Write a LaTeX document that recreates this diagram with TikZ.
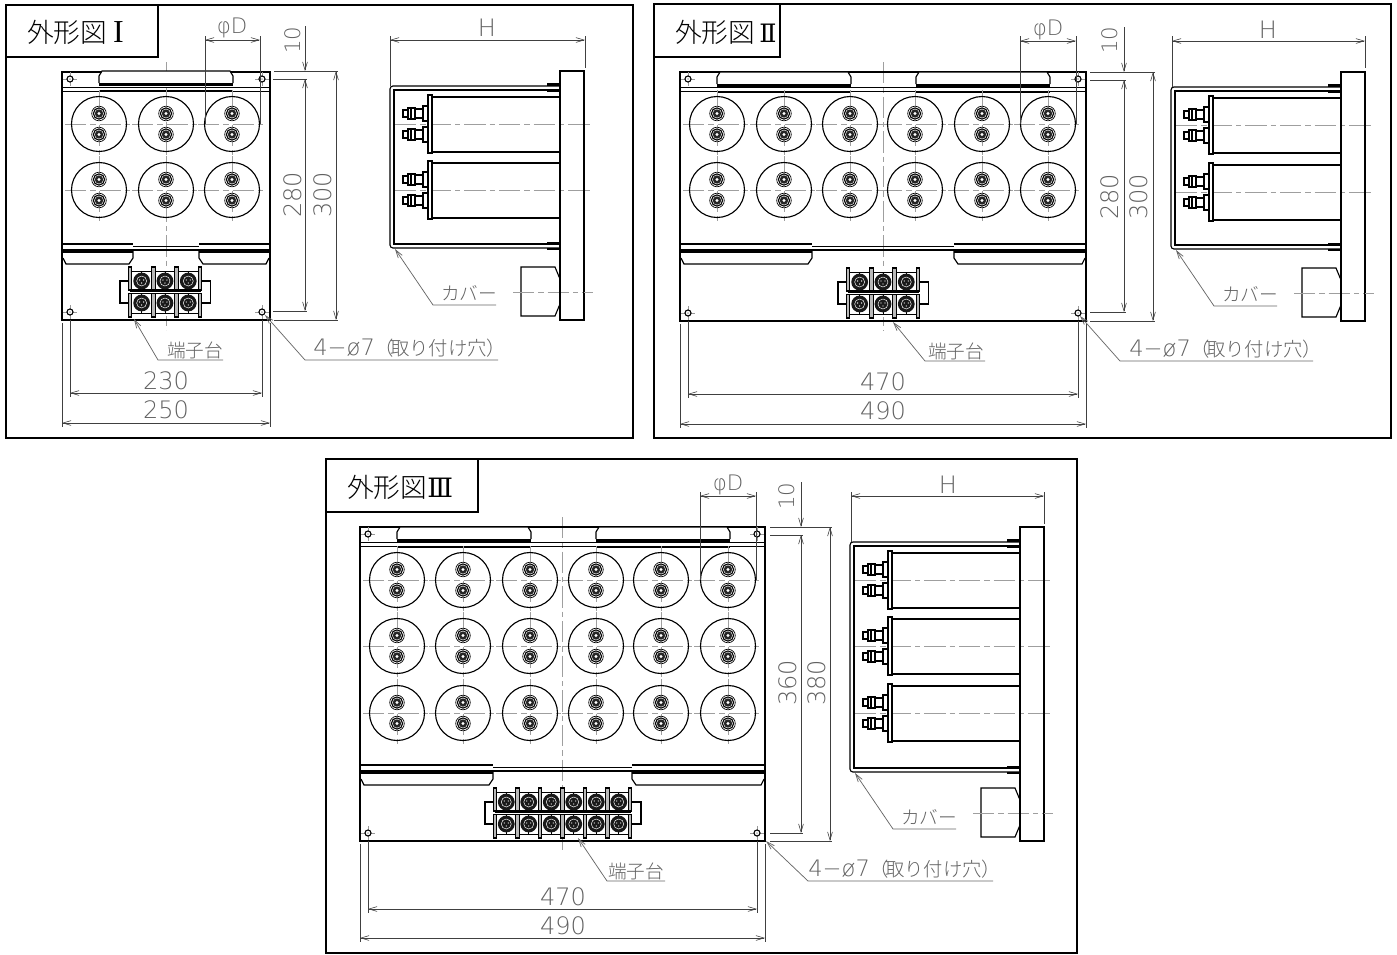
\documentclass[tikz,border=0pt]{standalone}
\usepackage{fontspec}
\usetikzlibrary{arrows.meta}
\newfontfamily\cjk{Noto Sans CJK JP}
\newfontfamily\cjkl{Noto Sans CJK JP Light}
\newfontfamily\dimf{DejaVu Sans ExtraLight}
\newfontfamily\serifl{Liberation Serif}
\newfontfamily\romanf{DejaVu Serif}
\definecolor{txtgray}{gray}{0.38}
\newcommand\holetext{{\dimf\fontsize{17pt}{20pt}\selectfont 4−ø7}{\cjkl\fontsize{14.5pt}{16pt}\selectfont（\hspace{-3pt}取り付け穴）}}
\tikzset{
  frameline/.style={draw=black,line width=1.5pt},
  part/.style={draw=black,line width=.85pt},
  heavy/.style={draw=black,line width=2.1pt},
  fine/.style={draw=black,line width=.5pt},
  cl/.style={draw=gray!75,line width=.55pt,dash pattern=on 16pt off 3pt on 4pt off 3pt},
  dimline/.style={draw=black!75,line width=.45pt,<->,>={Straight Barb[length=6pt,width=3.6pt]}},
  dimone/.style={draw=black!75,line width=.45pt,->,>={Straight Barb[length=6pt,width=3.6pt]}},
  extl/.style={draw=black!75,line width=.45pt},
  leader/.style={draw=gray!80!black,line width=.55pt,<-,>={Straight Barb[length=6pt,width=3.6pt]}},
  dimtxt/.style={text=txtgray,font=\dimf\fontsize{18pt}{20pt}\selectfont,inner sep=0pt},
  dimsm/.style={text=txtgray,font=\dimf\fontsize{16pt}{18pt}\selectfont,inner sep=0pt},
  jptxt/.style={text=txtgray,font=\cjkl\fontsize{14pt}{16pt}\selectfont,inner sep=0pt},
  titletxt/.style={text=black,font=\cjkl\fontsize{20pt}{22pt}\selectfont,inner sep=0pt,anchor=west},
}
% capacitor seen from the front
\newcommand\capu[2]{%
  \draw[cl] ({#1-34},#2)--({#1+34},#2);
  \draw[cl] (#1,{#2-34})--(#1,{#2+34});
  \draw[part] (#1,#2) circle[radius=27.5];
  \foreach \s in {-1,1}{%
    \draw[fine,fill=white] (#1,{#2+\s*10.5}) circle[radius=7.3];
    \draw[part,fill=white] (#1,{#2+\s*10.5}) circle[radius=5.6];
    \fill[black!85] (#1,{#2+\s*10.5}) circle[radius=4.2];
    \fill[white] (#1,{#2+\s*10.5}) circle[radius=1.6];
  }%
}
% mounting hole
\newcommand\hole[2]{%
  \draw[draw=gray!80,line width=.45pt] ({#1-7},#2)--({#1+7},#2);
  \draw[draw=gray!80,line width=.45pt] (#1,{#2-7})--(#1,{#2+7});
  \draw[part,fill=white] (#1,#2) circle[radius=3];
  \fill[gray!60] (#1,#2) circle[radius=1];
}
% front plate: x0 x1 ytop ybot strip-y bar-width
\newcommand\plate[6]{%
  \draw[cl] ({(#1+#2)/2},{#3-10})--({(#1+#2)/2},{#4+10});
  \draw[part,line width=1.1pt] (#1,#3) rectangle (#2,#4);
  \draw[part] (#1,{#3+15.5})--(#2,{#3+15.5});
  \draw[part] (#1,{#3+19.5})--(#2,{#3+19.5});
  \draw[heavy] (#1,#5)--({#1+#6},#5);
  \draw[heavy] ({#2-#6},#5)--(#2,#5);
  \draw[fine] ({#1+#6},{#5+2})--({#2-#6},{#5+2});
  \draw[part] (#1,{#5+6})--(#2,{#5+6});
  \draw[draw=black,line width=1.5pt] (#1,{#5+7.5})--({#1+#6},{#5+7.5});
  \draw[draw=black,line width=1.5pt] ({#2-#6},{#5+7.5})--(#2,{#5+7.5});
  \draw[part] ({#1+1},{#5+14})--({#1+4},{#5+20})--({#1+#6-4},{#5+20})--({#1+#6},{#5+14})--({#1+#6},{#5+7});
  \draw[part] ({#2-1},{#5+14})--({#2-4},{#5+20})--({#2-#6+4},{#5+20})--({#2-#6},{#5+14})--({#2-#6},{#5+7});
  \hole{#1+8}{#3+7}\hole{#2-8}{#3+7}\hole{#1+8}{#4-8}\hole{#2-8}{#4-8}%
}
% upper tab with its heavy bars: xa xb ytop
\newcommand\toptab[3]{%
  \draw[part,fill=white] (#1,{#3+12})--(#1,{#3+5})--({#1+3},#3)--({#2-3},#3)--(#2,{#3+5})--(#2,{#3+12});
  \draw[heavy] (#1,{#3+13.5})--(#2,{#3+13.5});
  \draw[heavy] (#1,{#3+20})--(#2,{#3+20});
}
% terminal block: left, ytop, n, pitch
\newcommand\tblock[4]{%
  \pgfmathsetmacro\tbR{#1+#3*#4}
  \draw[part,fill=white] ({#1-10},{#2+14}) rectangle (\tbR+11,{#2+36});
  \fill[white] (#1,{#2+1}) rectangle (\tbR,{#2+49});
  \draw[part] (#1,{#2+23})--(\tbR,{#2+23});
  \draw[part] (#1,{#2+26.5})--(\tbR,{#2+26.5});
  \foreach \k in {1,...,#3}{%
    \pgfmathsetmacro\tbX{#1+(\k-.5)*#4}
    \foreach \r in {14,36}{%
      \draw[fine] (\tbX-#4/2,{#2+\r-10}) rectangle (\tbX+#4/2,{#2+\r+10});
      \draw[fine] (\tbX,{#2+\r-10})--(\tbX,{#2+\r+10});
      \fill[black!90] (\tbX,{#2+\r}) circle[radius=8.4];
      \draw[white,line width=.35pt] (\tbX,{#2+\r}) circle[radius=5];
      \fill[white] (\tbX-2,{#2+\r-1}) circle[radius=.7];
      \fill[white] (\tbX+2,{#2+\r-1}) circle[radius=.7];
      \fill[white] (\tbX,{#2+\r+2}) circle[radius=.7];
    }%
  }%
  \foreach \k in {0,...,#3}{%
    \pgfmathsetmacro\tbX{#1+\k*#4}
    \draw[draw=black,line width=.9pt,fill=gray!55] (\tbX-1.8,{#2}) rectangle (\tbX+1.8,{#2+23});
    \draw[draw=black,line width=.9pt,fill=gray!55] (\tbX-1.8,{#2+26.5}) rectangle (\tbX+1.8,{#2+50});
  }%
}
% capacitor seen from the side, centre height #1
\newcommand\sidecap[1]{%
  \draw[cl] (395,#1)--(593,#1);
  \draw[part] (432,{#1-27})--(560,{#1-27});
  \draw[part] (432,{#1+28})--(560,{#1+28});
  \draw[part,fill=white] (428,{#1-29}) rectangle (432,{#1+29});
  \foreach \s in {-1,1}{%
    \draw[part,fill=white] (423,{#1+\s*10.5-7.5}) rectangle (428,{#1+\s*10.5+7.5});
    \draw[part,fill=white] (415,{#1+\s*10.5-4.5}) rectangle (423,{#1+\s*10.5+4.5});
    \draw[part,fill=white] (408,{#1+\s*10.5-5.5}) rectangle (415,{#1+\s*10.5+5.5});
    \draw[part,fill=white] (403,{#1+\s*10.5-3.5}) rectangle (408,{#1+\s*10.5+3.5});
    \draw[part] (411,{#1+\s*10.5-5.5})--(411,{#1+\s*10.5+5.5});
  }%
}
% side view: dx dy plate-bottom cover-bottom caps name
\newcommand\sideview[6]{%
  \begin{scope}[shift={(#1,#2)}]
  \pgfmathsetmacro\svLt{#3-53}
  \pgfmathsetmacro\svLb{#3-4}
  \pgfmathsetmacro\svLc{#3-28}
  \pgfmathsetmacro\svCa{#4}
  \pgfmathsetmacro\svCb{#4+4}
  \draw[part] (560,86)--(393,86) to[out=180,in=90] (390,89)--(390,{\svCb-3}) to[out=-90,in=180] (393,\svCb)--(560,\svCb);
  \draw[part] (560,90)--(394,90)--(394,\svCa)--(560,\svCa);
  \draw[heavy] (547,84.5)--(560,84.5);
  \draw[heavy] (547,91)--(560,91);
  \draw[heavy] (547,{\svCa-1})--(560,{\svCa-1});
  \draw[heavy] (547,{\svCb+1})--(560,{\svCb+1});
  \foreach \c in {#5}{\sidecap{\c}}%
  \draw[part,fill=white] (560,{\svLt+12})--(555,\svLt)--(521,\svLt)--(521,\svLb)--(555,\svLb)--(560,{\svLb-12});
  \draw[cl] (513,\svLc)--(593,\svLc);
  \draw[part,line width=1.1pt] (560,71) rectangle (584,#3);
  \draw[cl] (584,\svLc)--(593,\svLc);
  \draw[heavy,line width=1.6pt] (560,71)--(560,85);
  \draw[heavy,line width=1.6pt] (560,\svCb)--(560,\svLt);
  \draw[leader] (395,{\svCb+1})--(433,{\svCb+57})--(496,{\svCb+57});
  \node[jptxt] (#6) at (469,{\svCb+45}) {カバー};
  \end{scope}%
}
\begin{document}
\begin{tikzpicture}[x=.75pt,y=-.75pt]
\useasboundingbox (0,0) rectangle (1397,954);

% ---------- Panel I ----------
\draw[frameline] (6,5) rectangle (633,438);
\draw[frameline] (6,5) rectangle (158,57);
\node[titletxt] (t1) at (27,32) {外形図 {\serifl\fontsize{24pt}{24pt}\selectfont I}};
\plate{62}{270}{72}{320}{244}{71}
\toptab{99}{233}{71}
\foreach \x in {99,166,232}\foreach \y in {124,190}{\capu{\x}{\y}}
\tblock{130}{267}{3}{23.3}
\draw[extl] (205,36)--(205,124) (260,36)--(260,124);
\draw[dimline] (205,40)--(260,40);
\node[dimsm] (d1a) at (232,28) {φD};
\draw[extl] (274,71)--(338,71) (273,79)--(307,79) (273,311)--(307,311) (274,320)--(338,320);
\draw[dimone] (305,26)--(305,71);
\draw[dimline] (305,79)--(305,311);
\draw[dimline] (336,71)--(336,320);
\node[dimsm,rotate=90] (d1b) at (293,40) {10};
\node[dimtxt,rotate=90] (d1c) at (293,195) {280};
\node[dimtxt,rotate=90] (d1d) at (323,195) {300};
\draw[extl] (70,320)--(70,397) (262,320)--(262,397) (62,323)--(62,427) (270,323)--(270,427);
\draw[dimline] (70,393)--(262,393);
\draw[dimline] (62,423)--(270,423);
\node[dimtxt] (d1e) at (166,381) {230};
\node[dimtxt] (d1f) at (166,410) {250};
\draw[leader] (134,319)--(158,360)--(223,360);
\node[jptxt] (d1g) at (195,350) {端子台};
\draw[leader] (265,315)--(305,360)--(498,360);
\node[anchor=west,inner sep=0pt,text=txtgray] (d1h) at (313,348) {\holetext};
\sideview{0}{0}{320}{244}{124,190}{d1i}
\draw[extl] (390,36)--(390,86) (585,36)--(585,68);
\draw[dimline] (390,40)--(585,40);
\node[dimtxt] (d1j) at (487,28) {H};

% ---------- Panel II ----------
\draw[frameline] (654,4) rectangle (1391,438);
\draw[frameline] (654,4) rectangle (780,57);
\node[titletxt] (t2) at (675,32) {外形図\hspace{3pt}{\romanf\fontsize{19pt}{22pt}\selectfont Ⅱ}};
\plate{680}{1086}{72}{321}{244}{132}
\toptab{717}{851}{72}
\toptab{916}{1050}{72}
\foreach \x in {717,784,850,915,982,1048}\foreach \y in {124,190}{\capu{\x}{\y}}
\tblock{848}{268}{3}{23.3}
\draw[extl] (1020,36)--(1020,124) (1076,36)--(1076,124);
\draw[dimline] (1020,41)--(1076,41);
\node[dimsm] (d2a) at (1048,30) {φD};
\draw[extl] (1090,72)--(1155,72) (1090,80)--(1126,80) (1090,312)--(1126,312) (1090,321)--(1155,321);
\draw[dimone] (1124,27)--(1124,72);
\draw[dimline] (1124,80)--(1124,312);
\draw[dimline] (1153,72)--(1153,321);
\node[dimsm,rotate=90] (d2b) at (1110,40) {10};
\node[dimtxt,rotate=90] (d2c) at (1110,197) {280};
\node[dimtxt,rotate=90] (d2d) at (1139,197) {300};
\draw[extl] (688,321)--(688,398) (1078,321)--(1078,398) (680,324)--(680,428) (1086,324)--(1086,428);
\draw[dimline] (688,394)--(1078,394);
\draw[dimline] (680,424)--(1086,424);
\node[dimtxt] (d2e) at (883,382) {470};
\node[dimtxt] (d2f) at (883,411) {490};
\draw[leader] (893,322)--(925,361)--(985,361);
\node[jptxt] (d2g) at (956,351) {端子台};
\draw[leader] (1080,316)--(1120,361)--(1313,361);
\node[anchor=west,inner sep=0pt,text=txtgray] (d2h) at (1129,349) {\holetext};
\sideview{781}{1}{320}{244}{124,191}{d2i}
\draw[extl] (1172,36)--(1172,87) (1365,36)--(1365,68);
\draw[dimline] (1172,41)--(1365,41);
\node[dimtxt] (d2j) at (1268,30) {H};

% ---------- Panel III ----------
\draw[frameline] (326,459) rectangle (1077,953);
\draw[frameline] (326,459) rectangle (478,512);
\node[titletxt] (t3) at (347,487) {外形図{\romanf\fontsize{20pt}{22pt}\selectfont Ⅲ}};
\plate{360}{765}{527}{841}{765}{133}
\toptab{397}{531}{527}
\toptab{596}{730}{527}
\foreach \x in {397,463,530,596,661,728}\foreach \y in {580,646,713}{\capu{\x}{\y}}
\tblock{495}{788}{6}{22.5}
\draw[extl] (700,492)--(700,580) (756,492)--(756,580);
\draw[dimline] (700,496)--(756,496);
\node[dimsm] (d3a) at (728,485) {φD};
\draw[extl] (770,527)--(832,527) (770,535)--(803,535) (770,833)--(803,833) (770,841)--(832,841);
\draw[dimone] (801,482)--(801,527);
\draw[dimline] (801,535)--(801,833);
\draw[dimline] (830,527)--(830,841);
\node[dimsm,rotate=90] (d3b) at (787,496) {10};
\node[dimtxt,rotate=90] (d3c) at (788,683) {360};
\node[dimtxt,rotate=90] (d3d) at (817,683) {380};
\draw[extl] (368,841)--(368,913) (757,841)--(757,913) (360,844)--(360,942) (765,844)--(765,942);
\draw[dimline] (368,909)--(757,909);
\draw[dimline] (360,938)--(765,938);
\node[dimtxt] (d3e) at (563,897) {470};
\node[dimtxt] (d3f) at (563,926) {490};
\draw[leader] (578,838)--(607,881)--(665,881);
\node[jptxt] (d3g) at (636,871) {端子台};
\draw[leader] (766,841)--(808,881)--(993,881);
\node[anchor=west,inner sep=0pt,text=txtgray] (d3h) at (808,869) {\holetext};
\sideview{460}{456}{385}{312}{124,190,257}{d3i}
\draw[extl] (851,492)--(851,542) (1044,492)--(1044,524);
\draw[dimline] (851,496)--(1044,496);
\node[dimtxt] (d3j) at (948,485) {H};
\end{tikzpicture}
\end{document}
